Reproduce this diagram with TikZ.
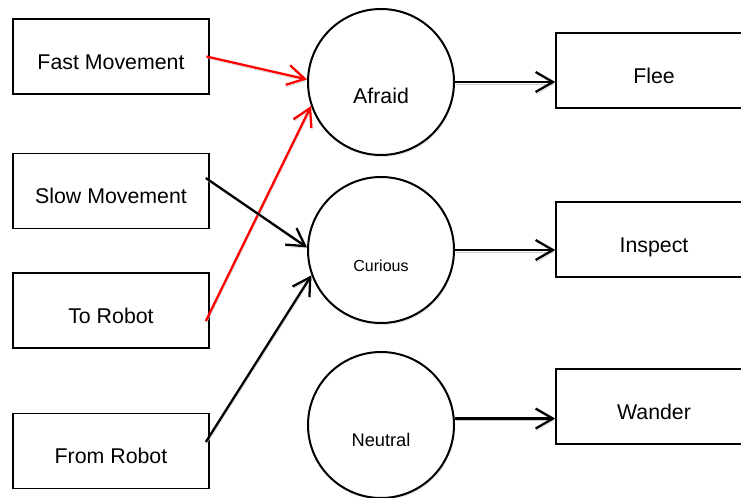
\documentclass[tikz,border=0pt]{standalone}
\usepackage{fontspec}
\setmainfont{Liberation Sans}
\usetikzlibrary{arrows.meta,shadows}
\tikzstyle{box}=[draw,rectangle,line width=1.2pt,fill=white,minimum width=147pt,minimum height=56.25pt,inner sep=0pt,text height=19pt,text depth=0pt,font=\fontsize{16}{19}\selectfont]
\tikzstyle{mood}=[draw,circle,line width=1.5pt,fill=white,minimum size=109.5pt,inner sep=0pt,text height=32.4pt,text depth=0pt,drop shadow={shadow xshift=0.6pt,shadow yshift=-1.5pt,opacity=0.2}]
\tikzstyle{link}=[line width=1.7pt,-{Straight Barb[length=13pt,width=15pt]},preaction={draw=black!20,transform canvas={xshift=0.6pt,yshift=-1.5pt}}]

\begin{document}
\begin{tikzpicture}[x=0.75pt,y=-0.75pt]
\clip (0,0) rectangle (741,498);

% stimuli
\node[box] (fast) at (111,56.5) {Fast Movement};
\node[box] (slow) at (111,191) {Slow Movement};
\node[box] (toward) at (111,310.5) {To Robot};
\node[box] (away) at (111,451) {From Robot};

% moods
\node[mood,font=\fontsize{16}{19}\selectfont] (afraid) at (381,82) {Afraid};
\node[mood,font=\fontsize{12}{14}\selectfont] (curious) at (381,250) {Curious};
\node[mood,font=\fontsize{13.7}{16}\selectfont] (neutral) at (381,425) {Neutral};

% behaviours
\node[box] (flee) at (654,70.5) {Flee};
\node[box] (inspect) at (654,239.5) {Inspect};
\node[box] (wander) at (654,406.5) {Wander};

\draw[link,red] ([xshift=-2.5pt]fast.east) -- (afraid.178);
\draw[link,red] ([xshift=-3pt,yshift=-7.9pt]toward.east) -- (afraid.199);
\draw[link] ([xshift=-3pt,yshift=9.75pt]slow.east) -- (curious.178);
\draw[link] ([xshift=-3pt,yshift=6.75pt]away.east) -- (curious.200);

\draw[link] (afraid.east) -- (afraid.east -| flee.west);
\draw[link] (curious.east) -- (curious.east -| inspect.west);
\draw[link] (neutral.5) -- (neutral.5 -| wander.west);

\end{tikzpicture}
\end{document}
